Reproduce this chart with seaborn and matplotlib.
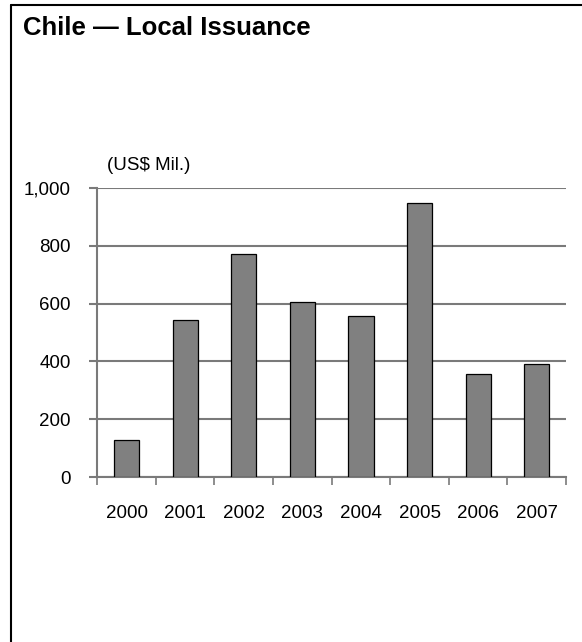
import matplotlib
matplotlib.use("Agg")
import matplotlib.pyplot as plt
from matplotlib.lines import Line2D
from matplotlib.ticker import FixedLocator, NullFormatter
import seaborn as sns
import pandas as pd

# Annual local bond issuance, US$ millions
years = ["2000", "2001", "2002", "2003", "2004", "2005", "2006", "2007"]
issuance = [128, 543, 772, 606, 558, 946, 357, 392]
y_ticks = [0, 200, 400, 600, 800, 1000]
y_tick_labels = ["0", "200", "400", "600", "800", "1,000"]

sns.set_theme(style="white")
plt.rcParams["font.family"] = ["Liberation Sans", "DejaVu Sans"]

W, H = 582, 642
fig = plt.figure(figsize=(W / 100, H / 100), dpi=100)
fig.patch.set_facecolor("white")

ax = fig.add_axes([97.3 / W, 1 - 477.3 / H, (566 - 97.3) / W, (477.3 - 187.7) / H])

df = pd.DataFrame({"year": years, "value": issuance})
sns.barplot(data=df, x="year", y="value", ax=ax, color="#808080",
            saturation=1, width=0.43, edgecolor="black", linewidth=0.9, zorder=3)

grid_col = "#7a7a7a"
label_size = 13.5
ax.set_ylim(0, 1000)
ax.set_xlim(-0.5, len(years) - 0.5)
ax.set_yticks(y_ticks)
ax.set_yticklabels(y_tick_labels)
ax.yaxis.grid(True, color=grid_col, linewidth=1.5, zorder=0)
ax.xaxis.grid(False)

# category boundaries carry the tick marks, labels sit at the centres
ax.xaxis.set_major_locator(FixedLocator([i - 0.5 for i in range(len(years) + 1)]))
ax.xaxis.set_major_formatter(NullFormatter())
ax.xaxis.set_minor_locator(FixedLocator(list(range(len(years)))))
ax.set_xticklabels(years, minor=True)
ax.tick_params(axis="x", which="major", direction="out", length=6, width=1.2,
               color=grid_col, bottom=True)
ax.tick_params(axis="x", which="minor", length=0, pad=20, labelsize=label_size,
               labelcolor="black", bottom=True)
ax.tick_params(axis="y", direction="out", length=6, width=1.5, color=grid_col,
               pad=13, labelsize=label_size, labelcolor="black", left=True)

ax.set_xlabel("")
ax.set_ylabel("")
for side in ["top", "right"]:
    ax.spines[side].set_visible(False)
for side in ["left", "bottom"]:
    ax.spines[side].set_color(grid_col)
    ax.spines[side].set_linewidth(1.5)

fig.text(106.7 / W, 1 - 166 / H, "(US$ Mil.)", ha="left", va="center",
         fontsize=label_size, color="black")
fig.text(23 / W, 1 - 35 / H, "Chile \u2014 Local Issuance", ha="left",
         va="baseline", fontsize=18.5, fontweight="bold", color="black")

# panel frame: top and left rules
fig.add_artist(Line2D([11 / W, 1], [1 - 5 / H, 1 - 5 / H], color="black",
                      linewidth=1.5, transform=fig.transFigure))
fig.add_artist(Line2D([11 / W, 11 / W], [1 - 5 / H, 0], color="black",
                      linewidth=1.5, transform=fig.transFigure))

fig.savefig("out.png", dpi=100, facecolor="white")
